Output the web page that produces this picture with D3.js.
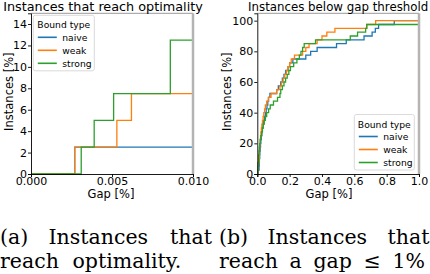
<!DOCTYPE html>
<html>
<head>
<meta charset="utf-8">
<script src="https://cdn.jsdelivr.net/npm/d3@7"></script>
<style>
    body { margin: 0; background: #fff; }
    svg { display: block; }
    text { font-family: "DejaVu Sans", sans-serif; fill: #000; }
    .caption { font-family: "DejaVu Serif", serif; font-size: 20.5px; }
</style>
</head>
<body>
<svg id="fig" width="430" height="274"></svg>
<script>
// number of instances in the test set
var nInstances = 40;

// gap [%] at which each instance drops below the threshold (sorted)
var naiveGaps = [0.0027, 0.011, 0.012, 0.013, 0.015, 0.016, 0.018, 0.02, 0.022, 0.025,
    0.028, 0.031, 0.035, 0.04, 0.045, 0.05, 0.055, 0.06, 0.065, 0.07,
    0.078, 0.12, 0.13, 0.145, 0.155, 0.165, 0.175, 0.19, 0.2, 0.22,
    0.3, 0.33, 0.37, 0.49, 0.55, 0.66, 0.71, 0.73, 0.75, 0.847];
var weakGaps = [0.0027, 0.0053, 0.0062, 0.011, 0.012, 0.013, 0.014, 0.016, 0.018, 0.02,
    0.022, 0.025, 0.028, 0.032, 0.036, 0.04, 0.045, 0.05, 0.058, 0.068,
    0.085, 0.12, 0.14, 0.15, 0.16, 0.17, 0.18, 0.19, 0.2, 0.21,
    0.23, 0.28, 0.3, 0.32, 0.37, 0.4, 0.43, 0.48, 0.677, 0.732];
var strongGaps = [0.0031, 0.0039, 0.0051, 0.0086, 0.0086, 0.011, 0.013, 0.015, 0.018, 0.022,
    0.027, 0.032, 0.037, 0.043, 0.05, 0.058, 0.07, 0.08, 0.1, 0.125,
    0.14, 0.145, 0.155, 0.165, 0.175, 0.185, 0.195, 0.205, 0.225, 0.245,
    0.26, 0.27, 0.28, 0.29, 0.36, 0.575, 0.62, 0.67, 0.677];

var seriesNames = ["naive", "weak", "strong"];
var seriesColors = ["#1f77b4", "#ff7f0e", "#2ca02c"];

var leftXTicks = [0, 0.005, 0.01];
var leftYTicks = [0, 2, 4, 6, 8, 10, 12, 14];
var rightXTicks = [0, 0.2, 0.4, 0.6, 0.8, 1.0];
var rightYTicks = [0, 20, 40, 60, 80, 100];

var svg = d3.select("#fig");

// cumulative share of instances with gap <= x, up to xmax
function ecdf(gaps, xmax) {
    var pts = [[0, 0]];
    var count = 0;
    gaps.forEach(function (g) {
        if (g <= xmax) {
            count++;
            pts.push([g, count / nInstances * 100]);
        }
    });
    pts.push([xmax, count / nInstances * 100]);
    return pts;
}

function drawPanel(p) {
    var x = d3.scaleLinear().domain(p.xDomain).range([p.left, p.right]);
    var y = d3.scaleLinear().domain(p.yDomain).range([p.bottom, p.top]);
    var g = svg.append("g");

    // curves
    var line = d3.line()
        .x(function (d) { return x(d[0]); })
        .y(function (d) { return y(d[1]); })
        .curve(d3.curveStepAfter);

    [naiveGaps, weakGaps, strongGaps].forEach(function (gaps, i) {
        g.append("path")
            .attr("d", line(ecdf(gaps, p.xDomain[1])))
            .attr("fill", "none")
            .attr("stroke", seriesColors[i])
            .attr("stroke-width", 1.3);
    });

    // frame
    g.append("line").attr("x1", p.left).attr("x2", p.right).attr("y1", p.top).attr("y2", p.top)
        .attr("stroke", "#999").attr("stroke-width", 1);
    g.append("line").attr("x1", p.right).attr("x2", p.right).attr("y1", p.top).attr("y2", p.bottom)
        .attr("stroke", "#b4b4b4").attr("stroke-width", 2.5);

    var xAxis = g.append("g")
        .attr("transform", "translate(0," + p.bottom + ")")
        .call(d3.axisBottom(x).tickValues(p.xTicks).tickFormat(d3.format(p.xFormat))
            .tickSize(3).tickPadding(0.5));
    var yAxis = g.append("g")
        .attr("transform", "translate(" + p.left + ",0)")
        .call(d3.axisLeft(y).tickValues(p.yTicks).tickSize(3).tickPadding(1));
    [xAxis, yAxis].forEach(function (a) {
        a.selectAll("text").style("font-size", "11px").style("font-family", "DejaVu Sans");
        a.selectAll("line, path").attr("stroke", "#000").attr("stroke-width", 0.9);
    });

    g.append("text")
        .attr("x", (p.left + p.right) / 2 + p.titleDx).attr("y", 10.5)
        .attr("text-anchor", "middle").style("font-size", p.titleSize)
        .text(p.title);
    g.append("text")
        .attr("x", p.xLabelX).attr("y", 198)
        .attr("text-anchor", "middle").style("font-size", "11.5px")
        .text("Gap [%]");
    g.append("text")
        .attr("transform", "translate(" + (p.yLabelX) + "," + ((p.top + p.bottom) / 2 - 2) + ") rotate(-90)")
        .attr("text-anchor", "middle").attr("dy", "0.35em").style("font-size", "11.5px")
        .text("Instances [%]");

    // legend
    var lg = g.append("g").attr("transform", "translate(" + p.legend[0] + "," + p.legend[1] + ")");
    lg.append("rect")
        .attr("width", p.legend[2]).attr("height", 55.5)
        .attr("rx", 2)
        .attr("fill", "#fff").attr("fill-opacity", 0.85)
        .attr("stroke", "#d0d0d0").attr("stroke-width", 0.8);
    lg.append("text")
        .attr("x", p.legend[2] / 2).attr("y", 13)
        .attr("text-anchor", "middle").style("font-size", "9.2px")
        .text("Bound type");
    seriesNames.forEach(function (name, i) {
        var yy = 22 + i * 13;
        lg.append("line")
            .attr("x1", 4.5).attr("x2", 23.5).attr("y1", yy).attr("y2", yy)
            .attr("stroke", seriesColors[i]).attr("stroke-width", 1.6);
        lg.append("text")
            .attr("x", 29).attr("y", yy).attr("dy", "0.35em")
            .style("font-size", "9.2px")
            .text(name);
    });
}

drawPanel({
    left: 31, right: 193, top: 13.3, bottom: 174,
    xDomain: [0, 0.01], yDomain: [0, 15],
    xTicks: leftXTicks, yTicks: leftYTicks, xFormat: ".3f",
    title: "Instances that reach optimality", titleSize: "12.8px", titleDx: -9,
    xLabelX: 111, yLabelX: 8.5,
    legend: [33.3, 15.3, 61]
});

drawPanel({
    left: 257.3, right: 419, top: 13.3, bottom: 174,
    xDomain: [0, 1], yDomain: [0, 104.8],
    xTicks: rightXTicks, yTicks: rightYTicks, xFormat: ".1f",
    title: "Instances below gap threshold", titleSize: "11.8px", titleDx: 0,
    xLabelX: 329, yLabelX: 227.3,
    legend: [354.3, 114.5, 60]
});

// sub-figure captions, one word at a time as in the justified LaTeX layout
var captionWords = [
    ["(a)", 0, 243.5], ["Instances", 48.5, 243.5], ["that", 170, 243.5],
    ["reach", 0, 268], ["optimality.", 72.5, 268],
    ["(b)", 219, 243.5], ["Instances", 267.5, 243.5], ["that", 387.5, 243.5],
    ["reach", 219, 268], ["a", 289.5, 268], ["gap", 313.5, 268], ["\u2264", 363.5, 268], ["1%", 392.5, 268]
];
svg.selectAll("text.caption")
    .data(captionWords)
    .enter()
    .append("text")
    .attr("class", "caption")
    .attr("x", function (d) { return d[1]; })
    .attr("y", function (d) { return d[2]; })
    .text(function (d) { return d[0]; });
</script>
</body>
</html>
